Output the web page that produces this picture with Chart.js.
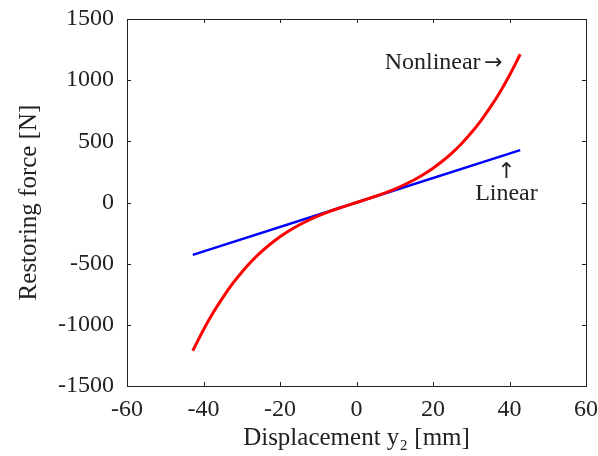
<!DOCTYPE html>
<html>
<head>
<meta charset="utf-8">
<script src="https://cdn.jsdelivr.net/npm/chart.js@4"></script>
<style>
  body { margin: 0; background: #fff; }
</style>
</head>
<body>
<canvas id="forceChart" width="598" height="456"></canvas>
<script>
// displacement y2 [mm] and restoring force [N]
var nonlinearX = [-42.8, -40, -37.5, -35, -32.5, -30, -27.5, -25, -22.5, -20, -17.5, -15, -12.5, -10, -7.5, -5, -2.5,
                  0, 2.5, 5, 7.5, 10, 12.5, 15, 17.5, 20, 22.5, 25, 27.5, 30, 32.5, 35, 37.5, 40, 42.8];
var nonlinearY = [-1212, -1040, -902, -779, -668, -570, -483, -406, -339, -280, -229, -184, -145, -110, -79, -51, -25,
                  0, 25, 51, 79, 110, 145, 184, 229, 280, 339, 406, 483, 570, 668, 779, 902, 1040, 1212];

var linearX = [-42.8, 0, 42.8];
var linearY = [-428, 0, 428];

var xTicks = [-60, -40, -20, 0, 20, 40, 60];
var yTicks = [-1500, -1000, -500, 0, 500, 1000, 1500];

var serif = "'Liberation Serif', 'DejaVu Serif', serif";
var textColor = '#222';

function toPoints(xs, ys) {
  return xs.map(function (x, i) { return { x: x, y: ys[i] }; });
}

// box round the plot with inward ticks on all four sides
var framePlugin = {
  id: 'frame',
  afterDraw: function (chart) {
    var ctx = chart.ctx;
    var a = chart.chartArea;
    var xs = chart.scales.x, ys = chart.scales.y;
    var len = 4;
    ctx.save();
    ctx.strokeStyle = '#222';
    ctx.lineWidth = 1;
    ctx.strokeRect(Math.round(a.left) + 0.5, Math.round(a.top) + 0.5,
                   Math.round(a.right - a.left), Math.round(a.bottom - a.top));
    ctx.beginPath();
    xTicks.forEach(function (v) {
      var px = Math.round(xs.getPixelForValue(v)) + 0.5;
      ctx.moveTo(px, a.bottom); ctx.lineTo(px, a.bottom - len);
      ctx.moveTo(px, a.top); ctx.lineTo(px, a.top + len);
    });
    yTicks.forEach(function (v) {
      var py = Math.round(ys.getPixelForValue(v)) + 0.5;
      ctx.moveTo(a.left, py); ctx.lineTo(a.left + len, py);
      ctx.moveTo(a.right, py); ctx.lineTo(a.right - len, py);
    });
    ctx.stroke();

    // curve labels, arrows in a font with longer arrow glyphs
    ctx.fillStyle = textColor;
    ctx.textBaseline = 'middle';
    var arrowX = xs.getPixelForValue(38.2);
    var labY = ys.getPixelForValue(1140);
    ctx.font = '24px ' + serif;
    ctx.textAlign = 'right';
    ctx.fillText('Nonlinear', arrowX - 22, labY);
    ctx.font = "22px 'DejaVu Sans', sans-serif";
    ctx.fillText('\u2192', arrowX, labY);
    ctx.textAlign = 'center';
    ctx.font = "22px 'DejaVu Sans', sans-serif";
    ctx.fillText('\u2191', xs.getPixelForValue(39.2), ys.getPixelForValue(245));
    ctx.font = '24px ' + serif;
    ctx.fillText('Linear', xs.getPixelForValue(39.2), ys.getPixelForValue(68));
    ctx.restore();
  }
};

var chart = new Chart(document.getElementById('forceChart'), {
  type: 'scatter',
  data: {
    datasets: [
      {
        label: 'Nonlinear',
        data: toPoints(nonlinearX, nonlinearY),
        showLine: true,
        borderColor: '#ff0000',
        backgroundColor: '#ff0000',
        borderWidth: 3,
        pointRadius: 0,
        cubicInterpolationMode: 'monotone'
      },
      {
        label: 'Linear',
        data: toPoints(linearX, linearY),
        showLine: true,
        borderColor: '#0000ff',
        backgroundColor: '#0000ff',
        borderWidth: 2.5,
        pointRadius: 0
      }
    ]
  },
  options: {
    responsive: false,
    animation: false,
    layout: { padding: { top: 19, right: 12, left: 0, bottom: 0 } },
    plugins: {
      legend: { display: false },
      tooltip: { enabled: false }
    },
    scales: {
      x: {
        type: 'linear',
        min: -60,
        max: 60,
        afterBuildTicks: function (scale) {
          scale.ticks = xTicks.map(function (v) { return { value: v }; });
        },
        afterFit: function (scale) {
          scale.height = 70;
          scale.paddingLeft = 0;
          scale.paddingRight = 0;
        },
        grid: { display: false, drawTicks: false },
        border: { display: false },
        ticks: {
          color: textColor,
          padding: 9,
          maxRotation: 0,
          font: { family: serif, size: 24 },
          callback: function (v) { return String(v); }
        },
        title: {
          display: true,
          text: 'Displacement y\u2082 [mm]',
          color: textColor,
          font: { family: serif, size: 25 },
          padding: { top: 0, bottom: 3 }
        }
      },
      y: {
        type: 'linear',
        min: -1500,
        max: 1500,
        afterBuildTicks: function (scale) {
          scale.ticks = yTicks.map(function (v) { return { value: v }; });
        },
        afterFit: function (scale) {
          scale.width = 127;
          scale.paddingTop = 0;
          scale.paddingBottom = 0;
        },
        grid: { display: false, drawTicks: false },
        border: { display: false },
        ticks: {
          color: textColor,
          padding: 13,
          font: { family: serif, size: 24 },
          callback: function (v) { return String(v); }
        },
        title: {
          display: true,
          text: 'Restoring force [N]',
          color: textColor,
          font: { family: serif, size: 25 },
          padding: { top: 14, bottom: 0 }
        }
      }
    }
  },
  plugins: [framePlugin]
});
</script>
</body>
</html>
